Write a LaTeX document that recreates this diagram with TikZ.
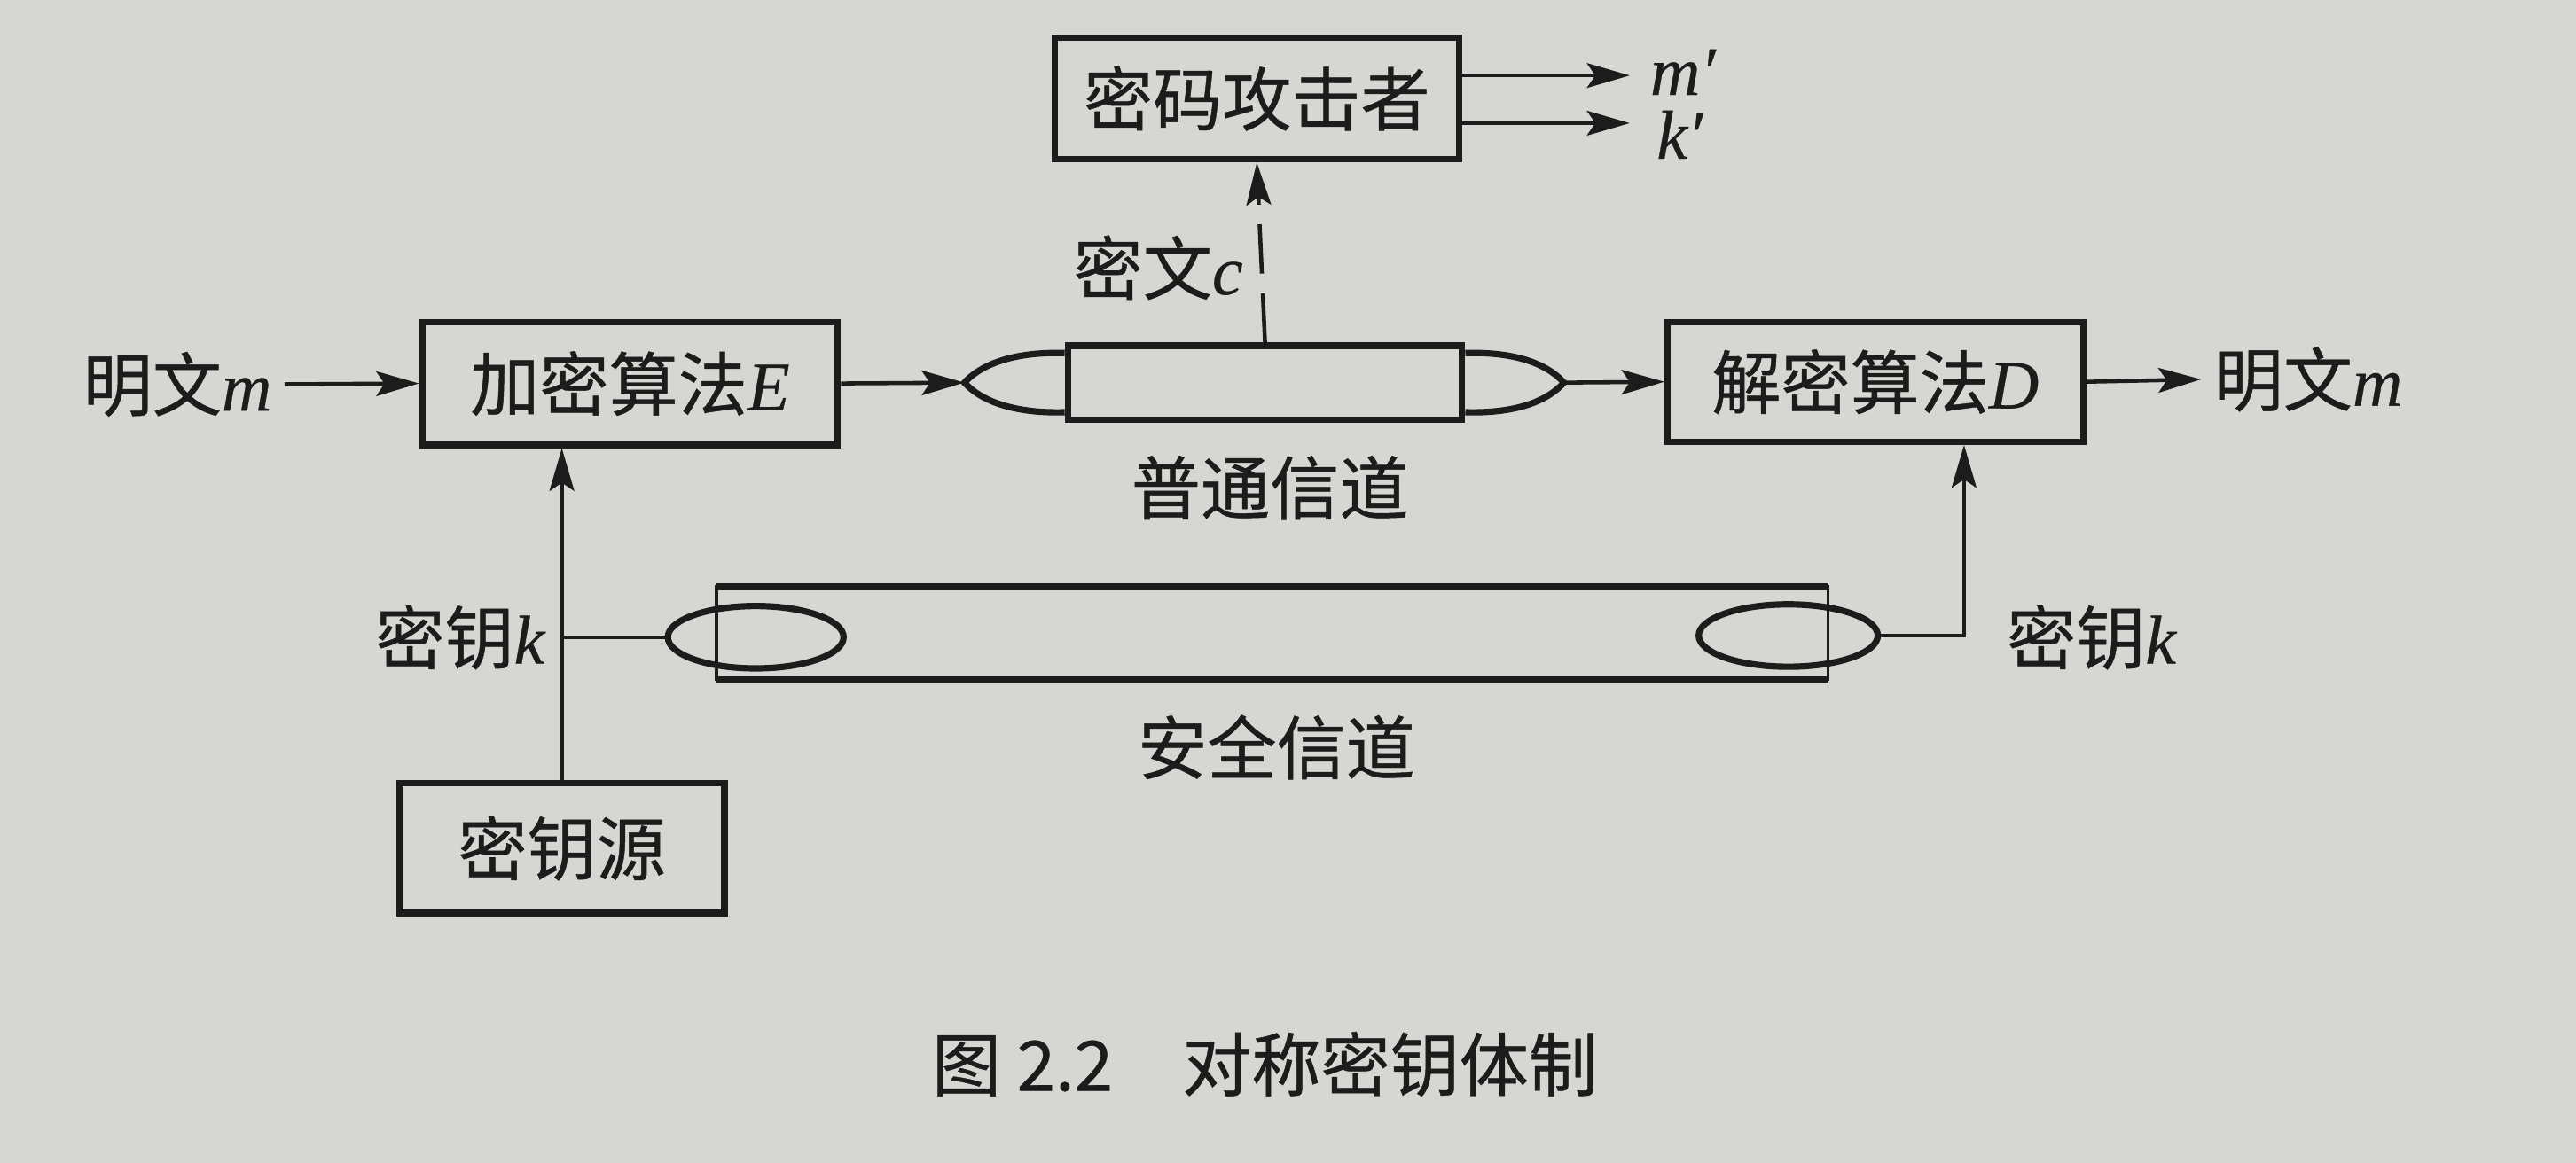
\documentclass[tikz,border=0pt]{standalone}
\usepackage{fontspec}
\setmainfont{Noto Sans CJK SC}[FakeBold=0.6]
\newfontfamily\tms{Liberation Serif}[FakeBold=0.4]
\newcommand{\mvar}[1]{{\tms\itshape #1}}
\usepackage{tikz}
\usetikzlibrary{positioning,arrows.meta,shapes.geometric,calc}
\definecolor{paper}{RGB}{214,214,210}
\definecolor{ink}{RGB}{28,28,28}

\begin{document}
\begin{tikzpicture}[
          x=1cm, y=1cm,
          font=\fontsize{12}{14}\selectfont,
          lbl/.style={text=ink, inner sep=2pt},
          box/.style={draw=ink, text=ink, line width=1.1pt, inner sep=0pt},
          wire/.style={draw=ink, line width=0.7pt},
          arr/.style={wire, -{Stealth[length=2.6mm,width=1.5mm,inset=0.5mm]}},
          lens/.style={ellipse, draw=ink, line width=1.1pt, inner sep=0pt,
                       minimum width=1.07cm, minimum height=0.38cm}
      ]
        \fill[paper] (0,0) rectangle (15.68,7.08);
        \useasboundingbox (0,0) rectangle (15.68,7.08);
        % boxes
        \node[box, minimum width=2.46cm, minimum height=0.74cm] (atk) at (7.65,6.48) {密码攻击者};
        \node[box, minimum width=2.53cm, minimum height=0.75cm] (enc) at (3.835,4.745) {加密算法\mvar{E}};
        \node[box, minimum width=2.53cm, minimum height=0.73cm] (dec) at (11.415,4.755) {解密算法\mvar{D}};
        \node[box, minimum width=1.98cm, minimum height=0.79cm] (src) at (3.42,1.915) {密钥源};
        % ordinary channel
        \node[box, minimum width=2.40cm, minimum height=0.45cm] (ch) at (7.70,4.75) {};
        \coordinate (chl) at ([xshift=-6.1mm]ch.west);
        \coordinate (chr) at ([xshift=6.0mm]ch.east);
        \draw[box] ($(ch.west)+(0,0.18)$) .. controls +(-0.35,0.01) and +(0.08,0.09) .. (chl)
              .. controls +(0.08,-0.09) and +(-0.35,-0.01) .. ($(ch.west)+(0,-0.18)$);
        \draw[box] ($(ch.east)+(0,0.18)$) .. controls +(0.35,0.01) and +(-0.08,0.09) .. (chr)
              .. controls +(-0.08,-0.09) and +(0.35,-0.01) .. ($(ch.east)+(0,-0.18)$);
        % secure channel
        \node[minimum width=6.75cm, minimum height=0.55cm, inner sep=0pt] (sch) at (7.745,3.225) {};
        \draw[wire, line width=0.6pt] (sch.north west) rectangle (sch.south east);
        \draw[box] (sch.north west) -- (sch.north east);
        \draw[box] (sch.south west) -- (sch.south east);
        \node[lens] (ekl) at (4.60,3.20) {};
        \node[lens, minimum width=1.09cm] (ekr) at (10.885,3.21) {};
        % labels
        \node[lbl] (pin) at (1.08,4.74) {明文\mvar{m}};
        \node[lbl] (pout) at (14.05,4.77) {明文\mvar{m}};
        \node[lbl] (ctxt) at (7.05,5.45) {密文\mvar{c}};
        \node[lbl, inner sep=0.5pt, anchor=west] (mm) at (10.02,6.64) {\mvar{m′}};
        \node[lbl, inner sep=0.5pt, anchor=west] (kk) at (10.06,6.26) {\mvar{k′}};
        \node[lbl] (pch) at (7.73,4.11) {普通信道};
        \node[lbl] (kl) at (2.80,3.20) {密钥\mvar{k}};
        \node[lbl] (kr) at (12.73,3.20) {密钥\mvar{k}};
        \node[lbl] (sclbl) at (7.77,2.53) {安全信道};
        \node[lbl] (cap) at (7.70,0.60) {图 2.2\quad 对称密钥体制};
        % connectors
        \coordinate (mo) at ([yshift=1.4mm]atk.east);
        \coordinate (ko) at ([yshift=-1.5mm]atk.east);
        \draw[arr] (pin.east) -- (enc.west);
        \draw[arr] (enc.east) -- (chl);
        \draw[arr] (chr) -- (dec.west);
        \draw[arr] (dec.east) -- (pout.west);
        \draw[arr, dash pattern=on 3mm off 1.2mm] (ch.north) -- (atk.south);
        \draw[arr] (mo) -- ([xshift=-1mm]mo -| mm.west);
        \draw[arr] (ko) -- ([xshift=-1.4mm]ko -| kk.west);
        \draw[wire] (ekl.west) -- (ekl.west -| src.north);
        \draw[arr] (src.north) -- (src.north |- enc.south);
        \draw[arr] (ekr.east) -| ([xshift=5.4mm]dec.south);
      \end{tikzpicture}
\end{document}
